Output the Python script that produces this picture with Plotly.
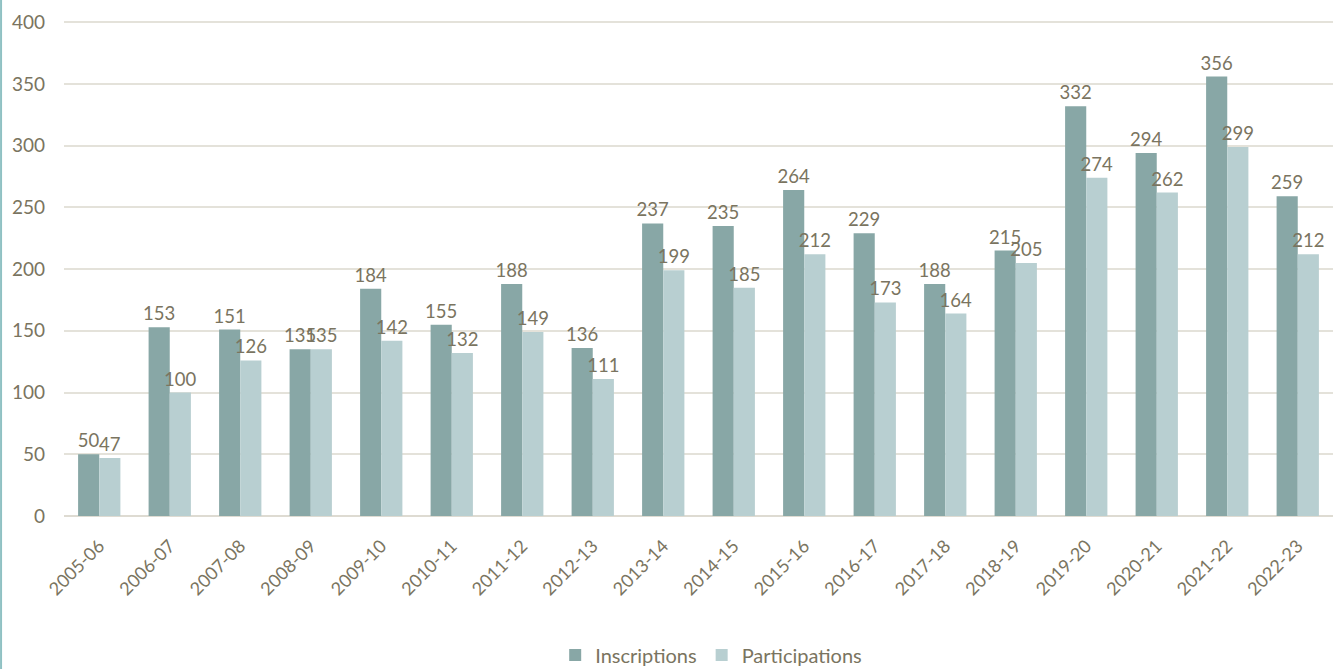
import plotly.graph_objects as go

seasons = ["2005-06", "2006-07", "2007-08", "2008-09", "2009-10", "2010-11", "2011-12",
           "2012-13", "2013-14", "2014-15", "2015-16", "2016-17", "2017-18", "2018-19",
           "2019-20", "2020-21", "2021-22", "2022-23"]
inscriptions = [50, 153, 151, 135, 184, 155, 188, 136, 237, 235, 264, 229, 188, 215, 332, 294, 356, 259]
participations = [47, 100, 126, 135, 142, 132, 149, 111, 199, 185, 212, 173, 164, 205, 274, 262, 299, 212]

text_color = "#7A7460"
font_family = "Lato, 'Open Sans', sans-serif"

fig = go.Figure()
fig.add_trace(go.Bar(
    x=seasons, y=inscriptions, name="Inscriptions",
    marker=dict(color="#88A7A6", line=dict(width=0)),
    text=[str(v) for v in inscriptions], textposition="outside", cliponaxis=False,
    constraintext="none", textangle=0,
    textfont=dict(color=text_color, size=18.5, family=font_family),
))
fig.add_trace(go.Bar(
    x=seasons, y=participations, name="Participations",
    marker=dict(color="#B8CFD1", line=dict(width=0)),
    text=[str(v) for v in participations], textposition="outside", cliponaxis=False,
    constraintext="none", textangle=0,
    textfont=dict(color=text_color, size=18.5, family=font_family),
))

fig.update_layout(
    width=1334, height=669,
    margin=dict(l=64, r=1, t=21, b=153, autoexpand=False),
    barmode="group", bargap=0.4, bargroupgap=0,
    plot_bgcolor="white", paper_bgcolor="white",
    font=dict(family=font_family, color=text_color, size=19),
    showlegend=True,
    legend=dict(orientation="h", x=0.51, xanchor="center", yref="container", y=0.021,
                yanchor="middle", font=dict(size=20, color=text_color), itemwidth=30),
)
fig.update_xaxes(type="category", tickangle=-45, showgrid=False, showline=False, ticks="",
                 automargin=False, ticklabelstandoff=15, tickfont=dict(size=18, color=text_color))
fig.update_yaxes(range=[0, 401], tickvals=[0, 50, 100, 150, 200, 250, 300, 350, 400],
                 showgrid=True, gridcolor="#E4E2DA", gridwidth=1.5,
                 zeroline=True, zerolinecolor="#DEDBD2", zerolinewidth=2,
                 automargin=False, ticklabelstandoff=18, tickfont=dict(size=19, color=text_color))

fig.add_shape(type="line", xref="paper", yref="paper", x0=-0.0496, x1=-0.0496, y0=-0.33, y1=1.05,
              line=dict(color="#8FC1C3", width=2))

fig.write_html("out.html", config={"displayModeBar": False},
               post_script="document.body.style.margin='0';")
